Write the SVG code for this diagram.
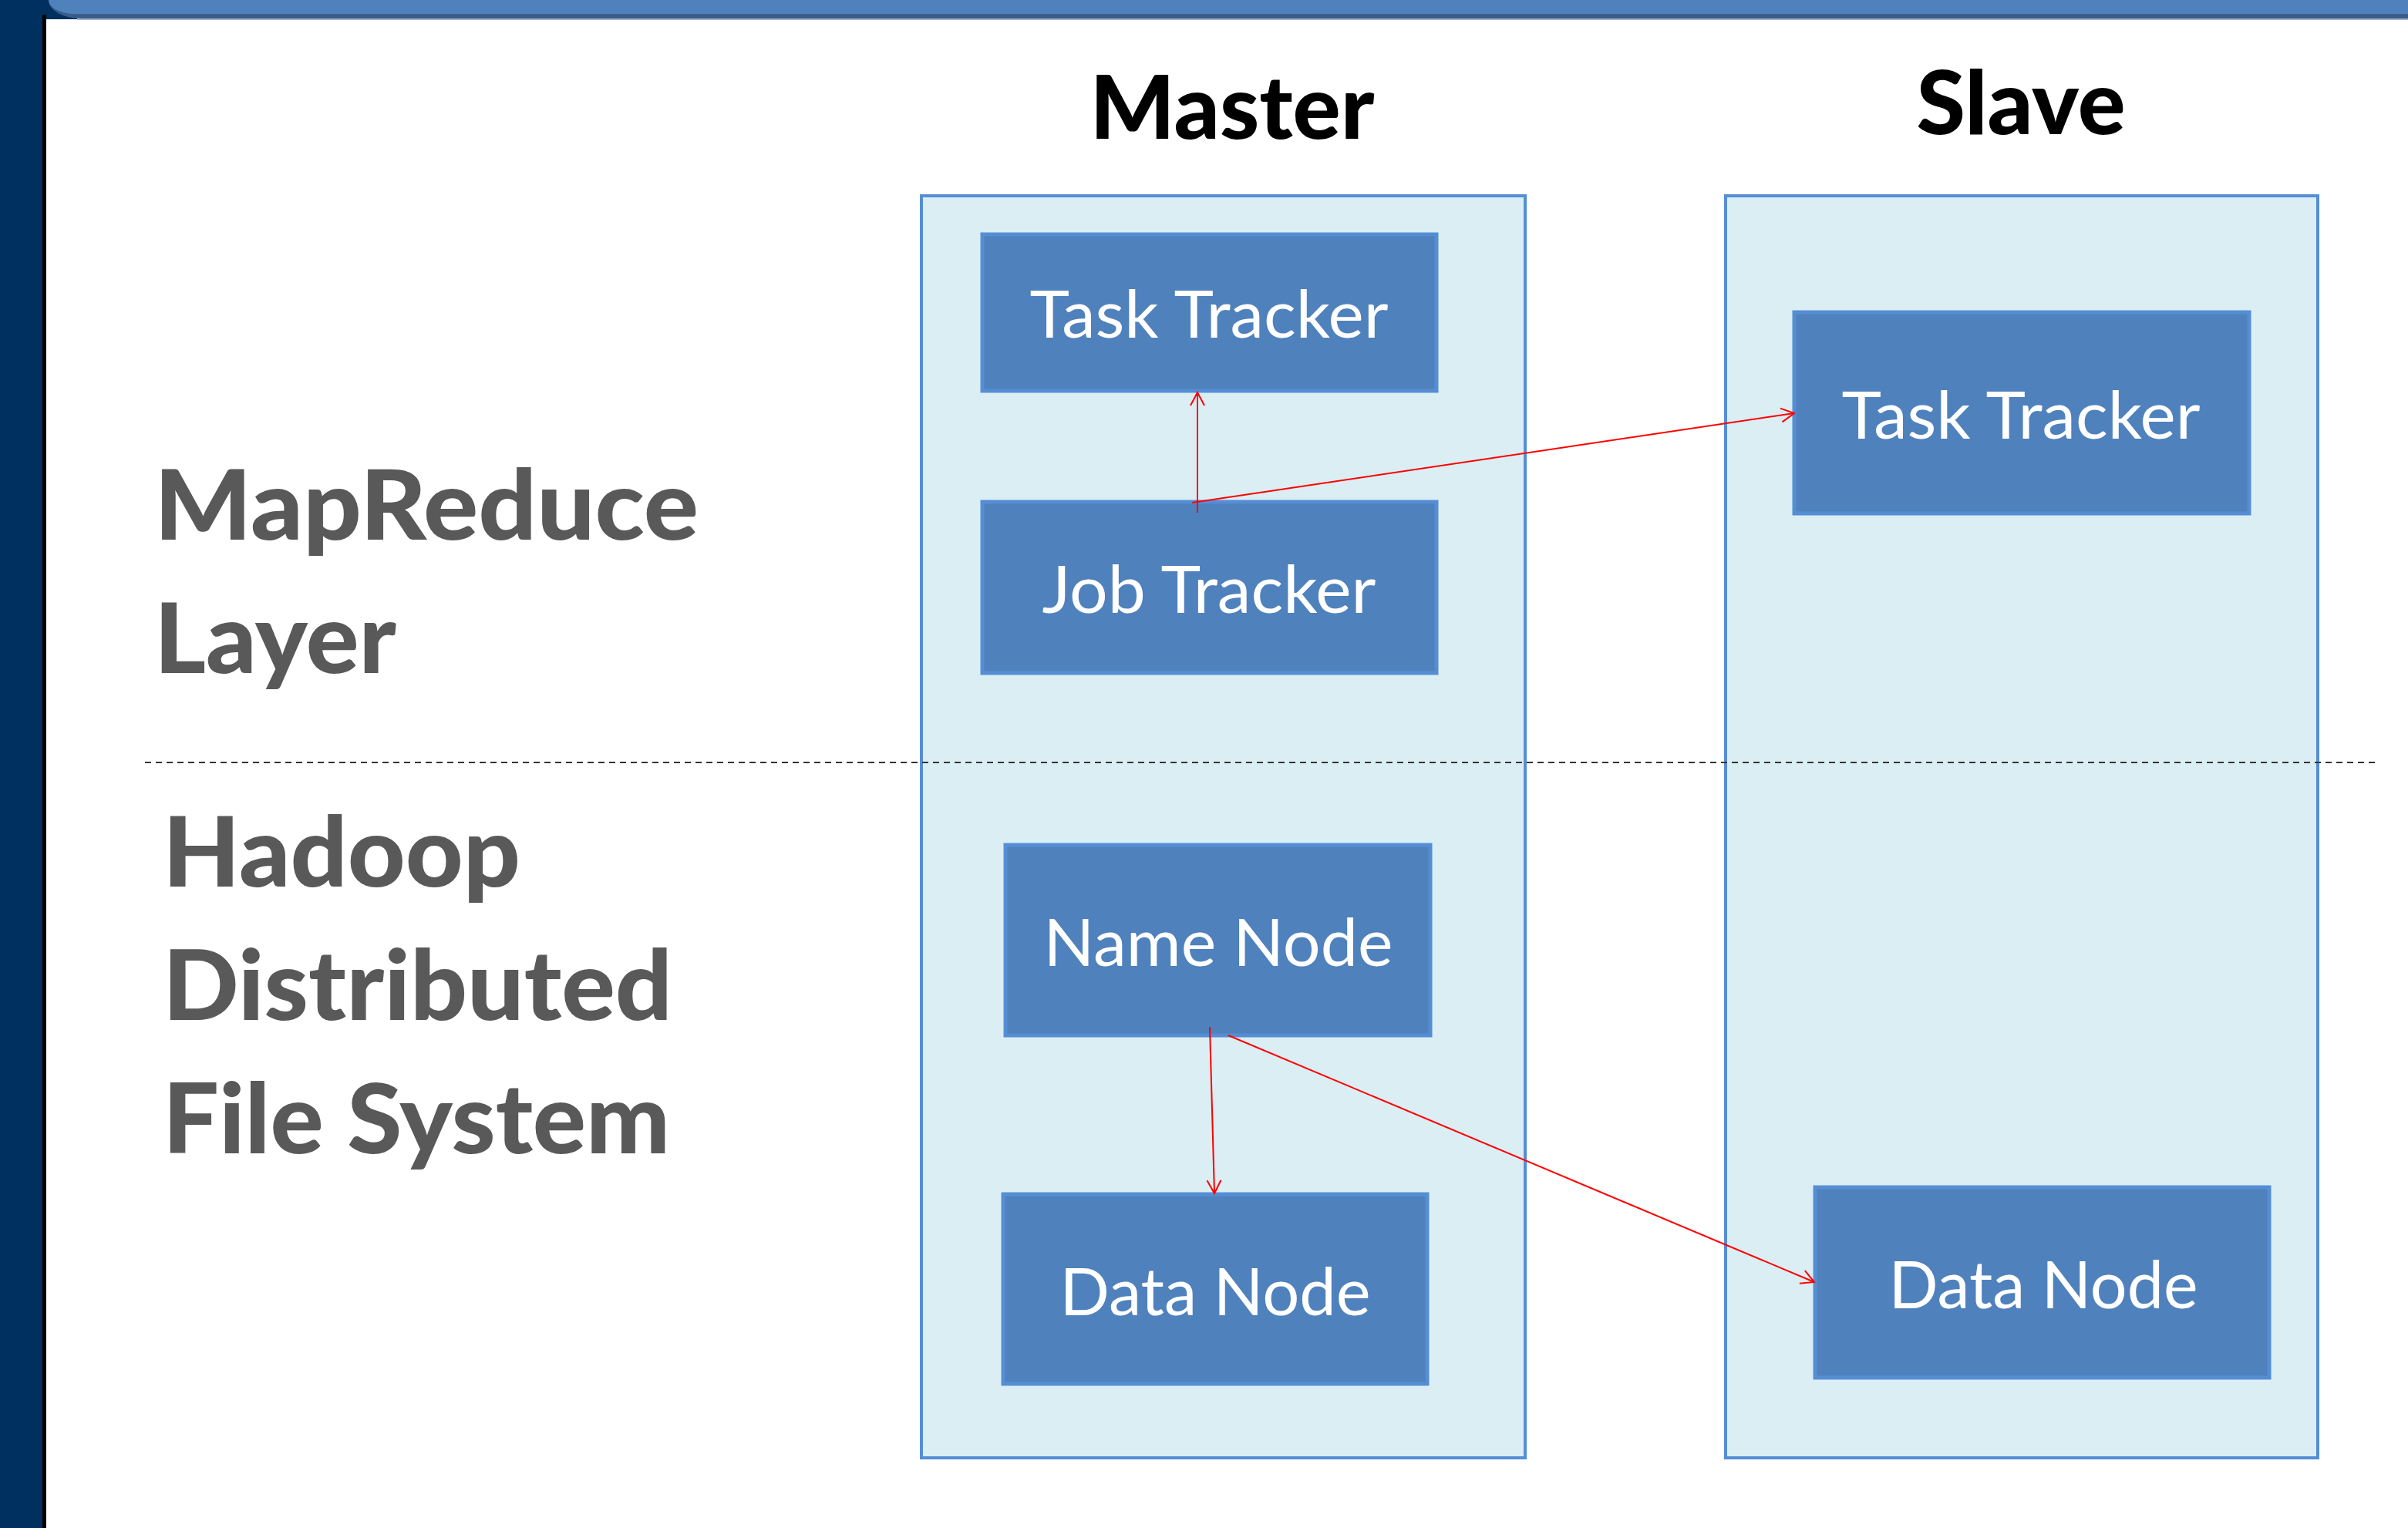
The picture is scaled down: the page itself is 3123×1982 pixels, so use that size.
<svg xmlns="http://www.w3.org/2000/svg" width="3123" height="1982" viewBox="0 0 3123 1982">
<defs>
<style>
.cont{fill:#DBEEF4;stroke:#558ED5;stroke-width:4}
.box{fill:#4F81BD;stroke:#558ED5;stroke-width:5}
.btxt{font-family:Lato,"Open Sans","Liberation Sans",sans-serif;font-size:86px;fill:#FFFFFF;text-anchor:middle}
.head{font-family:Lato,"Open Sans","Liberation Sans",sans-serif;font-weight:900;font-size:114px;fill:#000000;text-anchor:middle}
.side{font-family:Lato,"Open Sans","Liberation Sans",sans-serif;font-weight:900;font-size:126px;fill:#595959}
.conn{stroke:#FF0000;stroke-width:2;fill:none}
</style>
<marker id="arr" viewBox="-2 -11 22 22" refX="17" refY="0" markerWidth="22" markerHeight="22" markerUnits="userSpaceOnUse" orient="auto">
<path d="M 0 -9 L 17 0 L 0 9" fill="none" stroke="#FF0000" stroke-width="2"/>
</marker>
</defs>
<g id="frame">
<rect x="0" y="0" width="3123" height="1982" fill="#FFFFFF"/>
<rect x="0" y="0" width="55" height="1982" fill="#003060"/>
<rect x="55" y="0" width="45" height="25" fill="#003060"/>
<rect x="55" y="19" width="5" height="1963" fill="#000000"/>
<path d="M 63 0 H 3123 V 24 H 105 A 42 24 0 0 1 63 0 Z" fill="#385D8A"/>
<path d="M 63 0 H 3123 V 18 H 95 A 34 18 0 0 1 63 0 Z" fill="#4F81BD"/>
<rect x="100" y="24" width="3023" height="2" fill="#A8B4C8"/>
</g>
<g id="master">
<rect class="cont" x="1195" y="254" width="783" height="1637"/>
<text class="head" x="1598" y="180" textLength="369" lengthAdjust="spacingAndGlyphs">Master</text>
</g>
<g id="slave">
<rect class="cont" x="2238" y="254" width="768" height="1637"/>
<text class="head" x="2621" y="174" textLength="271" lengthAdjust="spacingAndGlyphs">Slave</text>
</g>
<g id="divider">
<line x1="188" y1="989" x2="3080" y2="989" stroke="#333333" stroke-width="2" stroke-dasharray="8 6"/>
</g>
<g id="label-mapreduce">
<text class="side" x="200" y="700" textLength="706" lengthAdjust="spacingAndGlyphs">MapReduce</text>
<text class="side" x="200" y="873" textLength="314" lengthAdjust="spacingAndGlyphs">Layer</text>
</g>
<g id="label-hdfs">
<text class="side" x="211" y="1150" textLength="464" lengthAdjust="spacingAndGlyphs">Hadoop</text>
<text class="side" x="211" y="1323" textLength="661" lengthAdjust="spacingAndGlyphs">Distributed</text>
<text class="side" x="211" y="1496" textLength="658" lengthAdjust="spacingAndGlyphs">File System</text>
</g>
<g id="master-task-tracker">
<rect class="box" x="1274" y="304" width="589" height="203"/>
<text class="btxt" x="1568" y="438" textLength="465" lengthAdjust="spacingAndGlyphs">Task Tracker</text>
</g>
<g id="job-tracker">
<rect class="box" x="1274" y="651" width="589" height="222"/>
<text class="btxt" x="1568" y="795" textLength="433" lengthAdjust="spacingAndGlyphs">Job Tracker</text>
</g>
<g id="name-node">
<rect class="box" x="1304" y="1096" width="551" height="247"/>
<text class="btxt" x="1580" y="1253" textLength="453" lengthAdjust="spacingAndGlyphs">Name Node</text>
</g>
<g id="master-data-node">
<rect class="box" x="1301" y="1549" width="550" height="246"/>
<text class="btxt" x="1576" y="1706" textLength="403" lengthAdjust="spacingAndGlyphs">Data Node</text>
</g>
<g id="slave-task-tracker">
<rect class="box" x="2327" y="405" width="590" height="261"/>
<text class="btxt" x="2621" y="569" textLength="465" lengthAdjust="spacingAndGlyphs">Task Tracker</text>
</g>
<g id="slave-data-node">
<rect class="box" x="2354" y="1540" width="589" height="247"/>
<text class="btxt" x="2650" y="1697" textLength="401" lengthAdjust="spacingAndGlyphs">Data Node</text>
</g>
<g id="connectors">
<line class="conn" x1="1553" y1="665" x2="1553" y2="509" marker-end="url(#arr)"/>
<line class="conn" x1="1546" y1="652" x2="2327" y2="536" marker-end="url(#arr)"/>
<line class="conn" x1="1569" y1="1332" x2="1575" y2="1548" marker-end="url(#arr)"/>
<line class="conn" x1="1593" y1="1343" x2="2353" y2="1663" marker-end="url(#arr)"/>
</g>
</svg>
